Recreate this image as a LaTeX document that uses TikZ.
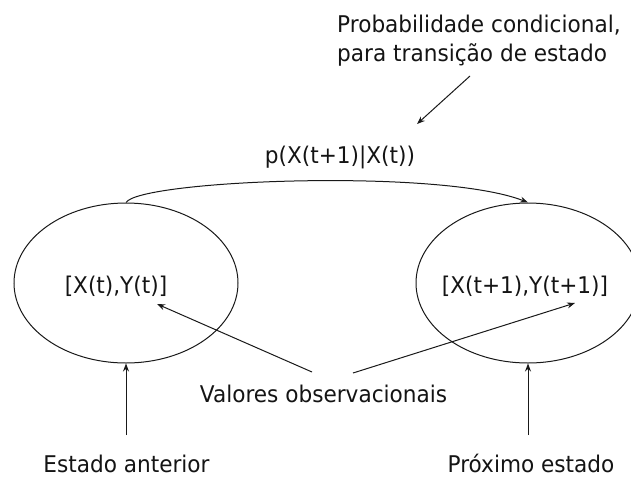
\documentclass[tikz,border=0pt]{standalone}
\usepackage{fontspec}
\setmainfont[FakeStretch=0.94]{DejaVu Sans}
\usetikzlibrary{shapes.geometric,arrows.meta}
\begin{document}
\begin{tikzpicture}[x=1pt,y=-1pt,
  lbl/.style={inner sep=0pt,text=black!92,font=\fontsize{23}{29}\selectfont},
  state/.style={draw=black!90,line width=1pt,ellipse,minimum width=224pt,minimum height=160pt,inner sep=0pt},
  arr/.style={draw=black!90,line width=1pt,-{Stealth[length=8pt,width=6pt]}}]
\useasboundingbox (0,0) rectangle (631,477);
% states
\node[state] (e1) at (126,283) {};
\node[state] (e2) at (528,283) {};
\node[lbl,anchor=base] (s1) at (116,293) {[X(t),Y(t)]};
\node[lbl,anchor=base] (s2) at (525,293) {[X(t+1),Y(t+1)]};
% labels
\node[lbl,anchor=north west,align=left] (top) at (337,15) {Probabilidade condicional,\\para transição de estado};
\node[lbl,anchor=base] (p) at (340,163) {p(X(t+1)|X(t))};
\node[lbl,anchor=base] (obs) at (323.5,402) {Valores observacionais};
\node[lbl,anchor=base] (ant) at (126.5,472) {Estado anterior};
\node[lbl,anchor=base] (prox) at (531,472) {Próximo estado};
% coordinates
\coordinate (tA) at (470,76);
\coordinate (tB) at (417,124);
\coordinate (oL) at (312,372);
\coordinate (oLt) at (157,304);
\coordinate (oR) at (353,373);
\coordinate (oRt) at (575,303);
\coordinate (aL) at (126,435);
\coordinate (aR) at (528,435);
% connectors
\draw[arr] (tA) -- (tB);
\draw[arr] (e1.north) .. controls (140,180) and (440,168) .. (e2.north);
\draw[arr] (oL) -- (oLt);
\draw[arr] (oR) -- (oRt);
\draw[arr] (aL) -- (e1.south);
\draw[arr] (aR) -- (e2.south);
\end{tikzpicture}
\end{document}
